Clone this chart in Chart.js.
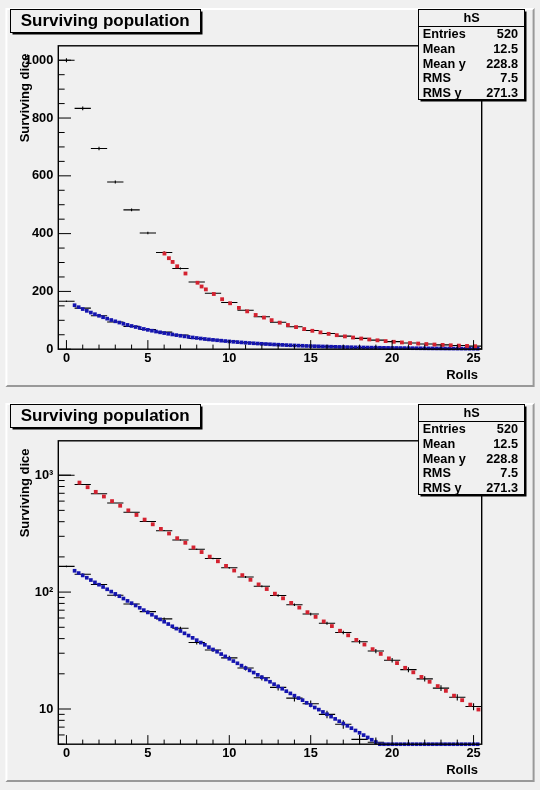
<!DOCTYPE html>
<html>
<head>
<meta charset="utf-8">
<script src="https://cdn.jsdelivr.net/npm/chart.js@4.4.1/dist/chart.umd.min.js"></script>
<style>
  html, body { margin: 0; padding: 0; background: #f0f0f0; }
  #wrap { position: relative; width: 540px; height: 790px; overflow: hidden; }
  .pad { position: absolute; left: 0; width: 540px; height: 395px; }
</style>
</head>
<body>
<div id="wrap">
  <div class="pad" style="top:0px"><canvas id="padLin"></canvas></div>
  <div class="pad" style="top:395px"><canvas id="padLog"></canvas></div>
</div>
<script>
// ---------------- data ----------------
const rolls = [0,1,2,3,4,5,6,7,8,9,10,11,12,13,14,15,16,17,18,19,20,21,22,23,24,25];
const binHalfWidth = 0.5;

const survivors = [1000, 833.3, 694.4, 578.7, 482.3, 401.9, 334.9, 279.1, 232.6, 193.8,
                   161.5, 134.6, 112.2, 93.5, 77.9, 64.9, 54.1, 45.1, 37.6, 31.3,
                   26.1, 21.7, 18.1, 15.1, 12.6, 10.5];
const survivorsErr = [7.1, 6.5, 5.9, 5.4, 4.9, 4.5, 4.1, 3.7, 3.4, 3.1,
                      2.8, 2.6, 2.4, 2.2, 2.0, 1.8, 1.6, 1.5, 1.4, 1.25,
                      1.14, 1.04, 0.95, 0.87, 0.79, 0.72];

const deaths = [166, 142, 116, 94, 79, 68, 59, 49, 37, 32,
                27.4, 22.4, 18.5, 15.3, 12.4, 11.1, 9.0, 7.4, 5.5, 5.2,
                4.3, 3.6, 3.0, 2.5, 2.1, 1.7];
const deathsErr = [2.9, 2.7, 2.4, 2.2, 2.0, 1.8, 1.7, 1.6, 1.4, 1.3,
                   1.2, 1.06, 0.96, 0.87, 0.79, 0.74, 0.67, 0.61, 0.52, 0.51,
                   0.46, 0.42, 0.39, 0.35, 0.32, 0.29];

// fine-grained blue points (deaths per roll)
const blueX = [0.5, 0.75,
  1, 1.25, 1.5, 1.75, 2, 2.25, 2.5, 2.75, 3, 3.25, 3.5, 3.75, 4, 4.25, 4.5, 4.75,
  5, 5.25, 5.5, 5.75, 6, 6.25, 6.5, 6.75, 7, 7.25, 7.5, 7.75, 8, 8.25, 8.5, 8.75,
  9, 9.25, 9.5, 9.75, 10, 10.25, 10.5, 10.75, 11, 11.25, 11.5, 11.75, 12, 12.25, 12.5, 12.75,
  13, 13.25, 13.5, 13.75, 14, 14.25, 14.5, 14.75, 15, 15.25, 15.5, 15.75, 16, 16.25, 16.5, 16.75,
  17, 17.25, 17.5, 17.75, 18, 18.25, 18.5, 18.75, 19, 19.25, 19.5, 19.75, 20, 20.25, 20.5, 20.75,
  21, 21.25, 21.5, 21.75, 22, 22.25, 22.5, 22.75, 23, 23.25, 23.5, 23.75, 24, 24.25, 24.5, 24.75,
  25, 25.25];
const blueY = [152.2, 145.4,
  138.9, 132.7, 126.8, 121.1, 115.7, 110.6, 105.7, 101.0, 96.5, 92.2, 88.1, 84.1, 80.4, 76.8, 73.4, 70.1,
  67.0, 64.0, 61.1, 58.4, 55.8, 53.3, 51.0, 48.7, 46.5, 44.4, 42.5, 40.6, 38.8, 37.0, 35.4, 33.8,
  32.3, 30.9, 29.5, 28.2, 26.9, 25.7, 24.6, 23.5, 22.4, 21.4, 20.5, 19.6, 18.7, 17.9, 17.1, 16.3,
  15.6, 14.9, 14.2, 13.6, 13.0, 12.4, 11.9, 11.3, 10.8, 10.3, 9.88, 9.44, 9.02, 8.61, 8.23, 7.86,
  7.51, 7.18, 6.86, 6.55, 6.26, 5.98, 5.71, 5.46, 5.22, 4.98, 4.76, 4.55, 4.35, 4.15, 3.97, 3.79,
  3.62, 3.46, 3.31, 3.16, 3.02, 2.88, 2.76, 2.63, 2.52, 2.40, 2.30, 2.19, 2.10, 2.00, 1.91, 1.83,
  1.75, 1.67];

// red points, linear pad (drawn from roll 6 on)
const redLinX = [6.02, 6.29, 6.52, 6.80, 7.31, 8.05, 8.30, 8.56, 9.05, 9.56, 10.05, 10.59, 11.10, 11.62, 12.13,
  12.6, 13.1, 13.6, 14.1, 14.6, 15.1, 15.6, 16.1, 16.6, 17.1, 17.6, 18.1, 18.6, 19.1, 19.6,
  20.1, 20.6, 21.1, 21.6, 22.1, 22.6, 23.1, 23.6, 24.1, 24.6, 25.1];
const redLinY = [331, 315, 302, 287, 262, 230, 217, 207, 191, 173, 159, 143, 131, 118.5, 109.5,
  100.5, 91.8, 83.8, 76.5, 69.8, 63.7, 58.2, 53.1, 48.5, 44.3, 40.4, 36.9, 33.7, 30.7, 28.1,
  25.6, 23.4, 21.3, 19.5, 17.8, 16.2, 14.8, 13.5, 12.4, 11.3, 10.3];

// red points, log pad
const redLogX = [0.8, 1.3, 1.8, 2.3, 2.8, 3.3, 3.8, 4.3, 4.8, 5.3, 5.8, 6.3, 6.8, 7.3, 7.8,
  8.3, 8.8, 9.3, 9.8, 10.3, 10.8, 11.3, 11.8, 12.3, 12.8, 13.3, 13.8, 14.3, 14.8, 15.3, 15.8,
  16.3, 16.8, 17.3, 17.8, 18.3, 18.8, 19.3, 19.8, 20.3, 20.8, 21.3, 21.8, 22.3, 22.8, 23.3, 23.8,
  24.3, 24.8, 25.3];
const redLogY = [864, 789, 720, 657, 600, 548, 500, 457, 417, 380, 347, 317, 289, 264, 241,
  220, 201, 183.5, 167.5, 152.9, 139.6, 127.4, 116.3, 106.2, 96.9, 88.5, 80.8, 73.7, 67.3, 61.4, 56.1,
  51.2, 46.7, 42.7, 39.0, 35.6, 32.5, 29.6, 27.1, 24.7, 22.5, 20.6, 18.8, 17.1, 15.7, 14.3, 13.0,
  11.9, 10.9, 9.9];

// axes
const xMin = -0.5, xMax = 25.5;
const xTicks = [0, 5, 10, 15, 20, 25];
const yLinMin = 0, yLinMax = 1050;
const yLinTicks = [0, 200, 400, 600, 800, 1000];
const yLogMin = 5, yLogMax = 1968;
const yLogTicks = [10, 100, 1000];
const yLogLabels = ['10', '10\u00B2', '10\u00B3'];

// texts
const titleText = 'Surviving population';
const xTitle = 'Rolls';
const yTitle = 'Surviving dice';
const statsName = 'hS';
const statsLabels = ['Entries', 'Mean', 'Mean y', 'RMS', 'RMS y'];
const statsValues = ['520', '12.5', '228.8', '7.5', '271.3'];

// ---------------- styles ----------------
const FONT = "'Liberation Sans', Arial, Helvetica, sans-serif";
const BG = '#f0f0f0';
const RED = 'rgb(212,34,48)';
const BLUE = 'rgb(20,20,175)';

function points(xs, ys, floor) {
  return xs.map((x, i) => ({ x: x, y: floor != null ? Math.max(ys[i], floor) : ys[i] }));
}
function errorSegments(xs, ys, es) {
  const out = [];
  xs.forEach((x, i) => {
    out.push({ x: x - binHalfWidth, y: ys[i] }, { x: x + binHalfWidth, y: ys[i] }, { x: x, y: null });
    out.push({ x: x, y: ys[i] - es[i] }, { x: x, y: ys[i] + es[i] }, { x: x, y: null });
  });
  return out;
}

const rootPad = {
  id: 'rootPad',
  beforeDraw(chart) {
    const c = chart.ctx, W = chart.width, H = chart.height;
    const L = 5.4, T = 7.9, R = 534.6, B = 387.1, bw = 2;
    c.save();
    c.fillStyle = BG; c.fillRect(0, 0, W, H);
    c.fillStyle = '#ffffff';
    c.beginPath();
    c.moveTo(L, T); c.lineTo(R, T); c.lineTo(R - bw, T + bw); c.lineTo(L + bw, T + bw);
    c.lineTo(L + bw, B - bw); c.lineTo(L, B); c.closePath(); c.fill();
    c.fillStyle = '#999999';
    c.beginPath();
    c.moveTo(R, B); c.lineTo(L, B); c.lineTo(L + bw, B - bw); c.lineTo(R - bw, B - bw);
    c.lineTo(R - bw, T + bw); c.lineTo(R, T); c.closePath(); c.fill();
    c.restore();
  },
  afterDraw(chart, args, opts) {
    const c = chart.ctx, ca = chart.chartArea;
    const xs = chart.scales.x, ys = chart.scales.y;
    c.save();
    // frame
    c.strokeStyle = '#000'; c.lineWidth = 1.4;
    c.strokeRect(ca.left, ca.top, ca.right - ca.left, ca.bottom - ca.top);
    // x ticks (inside)
    c.lineWidth = 1;
    c.beginPath();
    for (let v = 0; v <= 25; v++) {
      const px = xs.getPixelForValue(v);
      const len = (v % 5 === 0) ? 9.1 : 4.6;
      c.moveTo(px, ca.bottom); c.lineTo(px, ca.bottom - len);
    }
    // y ticks
    if (opts.log) {
      [1, 10, 100, 1000].forEach(d => {
        for (let k = 1; k <= 9; k++) {
          const v = k * d;
          if (v < yLogMin || v > yLogMax) continue;
          const py = ys.getPixelForValue(v);
          const len = (k === 1) ? 12.7 : 6.35;
          c.moveTo(ca.left, py); c.lineTo(ca.left + len, py);
        }
      });
    } else {
      for (let v = 0; v <= 1000; v += 50) {
        const py = ys.getPixelForValue(v);
        const len = (v % 200 === 0) ? 12.7 : 6.35;
        c.moveTo(ca.left, py); c.lineTo(ca.left + len, py);
      }
    }
    c.stroke();

    // axis titles
    c.fillStyle = '#000';
    c.font = 'bold 13px ' + FONT;
    c.textBaseline = 'alphabetic';
    c.textAlign = 'right';
    c.fillText(xTitle, 478, ca.bottom + 29.8);
    c.save();
    c.translate(28.6, ca.top + 7.7);
    c.rotate(-Math.PI / 2);
    c.textAlign = 'right';
    c.fillText(yTitle, 0, 0);
    c.restore();

    // title box
    c.fillStyle = '#000';
    c.fillRect(12.5, 11.5, 190, 23);
    c.fillStyle = BG;
    c.fillRect(10.5, 9.5, 190, 23);
    c.lineWidth = 1; c.strokeStyle = '#000';
    c.strokeRect(10.5, 9.5, 190, 23);
    c.fillStyle = '#000';
    c.font = 'bold 17px ' + FONT;
    c.textAlign = 'left';
    c.fillText(titleText, 20.7, 26);

    // stats box
    const sL = 418.5, sT = 9.5, sW = 106, sH = 90;
    c.fillStyle = '#000';
    c.fillRect(sL + 2, sT + 2, sW, sH);
    c.fillStyle = BG;
    c.fillRect(sL, sT, sW, sH);
    c.strokeRect(sL, sT, sW, sH);
    c.beginPath(); c.moveTo(sL, 26.5); c.lineTo(sL + sW, 26.5); c.stroke();
    c.fillStyle = '#000';
    c.font = 'bold 12.7px ' + FONT;
    c.textAlign = 'center';
    c.fillText(statsName, sL + sW / 2, 22.4);
    statsLabels.forEach((lab, i) => {
      const by = 37.9 + i * 14.8;
      c.textAlign = 'left';
      c.fillText(lab, 422.7, by);
      c.textAlign = 'right';
      c.fillText(statsValues[i], 518, by);
    });
    c.restore();
  }
};

function makeChart(id, log) {
  const tickFont = { family: FONT, size: 12.8, weight: 'bold' };
  const red = log ? points(redLogX, redLogY) : points(redLinX, redLinY);
  const blue = points(blueX, blueY, log ? yLogMin : null);
  return new Chart(document.getElementById(id), {
    type: 'scatter',
    data: {
      datasets: [
        { label: 'red', data: red, pointStyle: 'rect', pointRadius: 2.7, pointBorderWidth: 0,
          pointBackgroundColor: RED, backgroundColor: RED, borderColor: RED, showLine: false, clip: false },
        { label: 'blue', data: blue, pointStyle: 'rect', pointRadius: 2.6, pointBorderWidth: 0,
          pointBackgroundColor: BLUE, backgroundColor: BLUE, borderColor: BLUE, showLine: false, clip: false },
        { label: 'hS', data: errorSegments(rolls, survivors, survivorsErr), showLine: true, spanGaps: false,
          pointRadius: 0, pointHitRadius: 0, borderColor: '#000', borderWidth: 1.1 },
        { label: 'hD', data: errorSegments(rolls, deaths, deathsErr), showLine: true, spanGaps: false,
          pointRadius: 0, pointHitRadius: 0, borderColor: '#000', borderWidth: 1.1 }
      ]
    },
    options: {
      responsive: true,
      maintainAspectRatio: false,
      animation: false,
      events: [],
      layout: { padding: { top: 45.8, right: 58.3, left: 0, bottom: 0 } },
      plugins: { legend: { display: false }, tooltip: { enabled: false }, rootPad: { log: log } },
      scales: {
        x: {
          type: 'linear', position: 'bottom', min: xMin, max: xMax,
          grid: { display: false, drawTicks: false }, border: { display: false },
          afterFit: s => { s.height = 45.8; },
          afterBuildTicks: s => { s.ticks = xTicks.map(v => ({ value: v })); },
          ticks: { autoSkip: false, maxRotation: 0, padding: 1.5, color: '#000', font: tickFont,
                   callback: v => String(v) }
        },
        y: log ? {
          type: 'logarithmic', min: yLogMin, max: yLogMax,
          grid: { display: false, drawTicks: false }, border: { display: false },
          afterFit: s => { s.width = 58.3; },
          afterBuildTicks: s => { s.ticks = yLogTicks.map(v => ({ value: v })); },
          ticks: { autoSkip: false, padding: 5, color: '#000', font: tickFont,
                   callback: v => { const i = yLogTicks.indexOf(v); return i >= 0 ? yLogLabels[i] : ''; } }
        } : {
          type: 'linear', min: yLinMin, max: yLinMax,
          grid: { display: false, drawTicks: false }, border: { display: false },
          afterFit: s => { s.width = 58.3; },
          afterBuildTicks: s => { s.ticks = yLinTicks.map(v => ({ value: v })); },
          ticks: { autoSkip: false, padding: 5, color: '#000', font: tickFont,
                   callback: v => String(v) }
        }
      }
    },
    plugins: [rootPad]
  });
}

makeChart('padLin', false);
makeChart('padLog', true);
</script>
</body>
</html>
